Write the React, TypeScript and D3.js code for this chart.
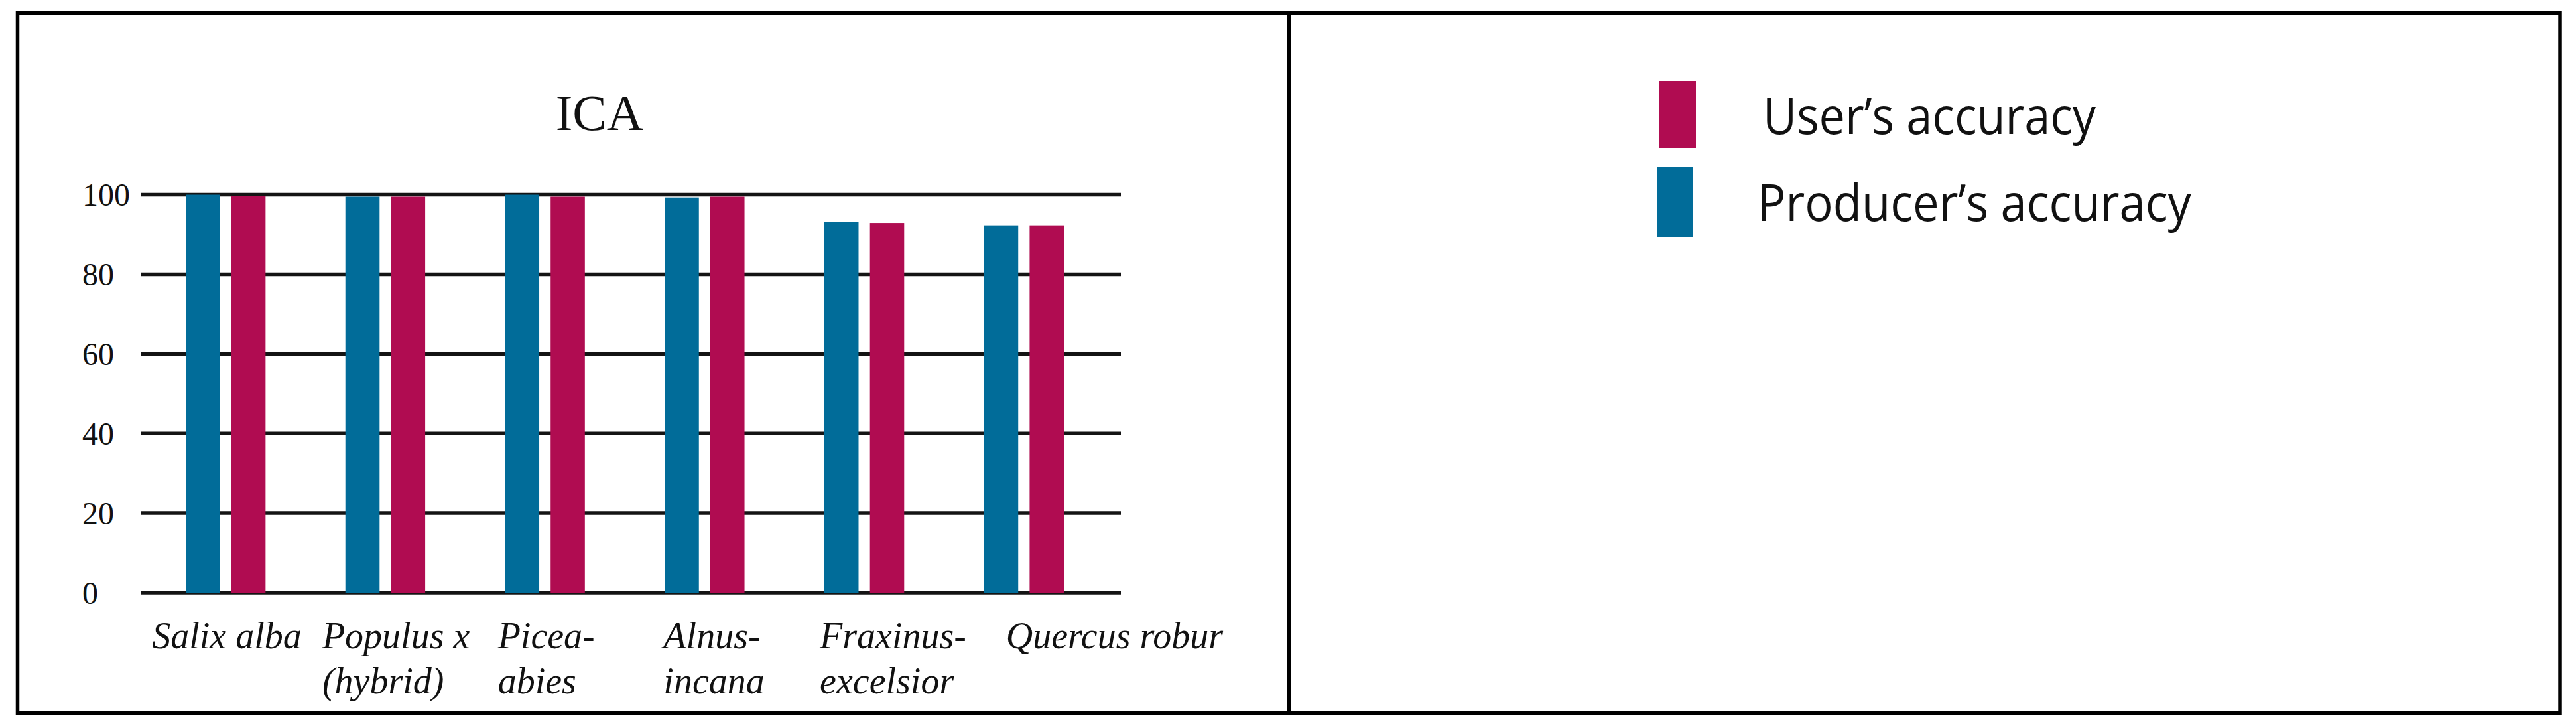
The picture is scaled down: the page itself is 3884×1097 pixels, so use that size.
import React from 'react'
import * as d3 from 'd3'

// data
const categories = ['Salix alba', 'Populus x (hybrid)', 'Picea-abies', 'Alnus-incana', 'Fraxinus-excelsior', 'Quercus robur']
const categoryLines = [['Salix alba'], ['Populus x', '(hybrid)'], ['Picea-', 'abies'], ['Alnus-', 'incana'], ['Fraxinus-', 'excelsior'], ['Quercus robur']]
const producerAccuracy = [100, 99.5, 100, 99.3, 93.1, 92.3]
const userAccuracy = [99.7, 99.5, 99.5, 99.5, 92.9, 92.3]
const yTicks = [0, 20, 40, 60, 80, 100]
const seriesKeys = ['producer', 'user']
const legendLabels = ['User\u2019s accuracy', 'Producer\u2019s accuracy']
const title = 'ICA'

const colors = { producer: '#016c99', user: '#b00c51' }

// label left edges sit a bit off the group centre in the original
const labelDx = [-111, -95, -71, -62, -67, -27]

export default function App() {
  const width = 3884
  const height = 1097

  const x = d3.scaleBand().domain(categories).range([280, 1604]).paddingInner(0.5).paddingOuter(0)
  const xs = d3.scaleBand().domain(seriesKeys).range([0, x.bandwidth()]).paddingInner(0.25)
  const y = d3.scaleLinear().domain([0, 100]).range([893, 293.5])

  const bars = categories.flatMap((c, i) => [
    { key: 'producer', cat: c, v: producerAccuracy[i] },
    { key: 'user', cat: c, v: userAccuracy[i] }
  ])

  const serif = '"Liberation Serif", "Times New Roman", serif'
  const sans = '"Open Sans", "Noto Sans", sans-serif'

  return (
    <svg width={width} height={height} style={{ position: 'absolute', left: 0, top: 0, display: 'block', background: '#fff' }}>
      <text x={904} y={196} textAnchor="middle" fontFamily={serif} fontSize={77} fill="#111">{title}</text>

      {/* grid */}
      {yTicks.map(t => (
        <g key={t}>
          <line x1={212} x2={1690} y1={y(t)} y2={y(t)} stroke="#141414" strokeWidth={5.5} />
          <text x={124} y={y(t)} dy="0.35em" fontFamily={serif} fontSize={48} fill="#111">{t}</text>
        </g>
      ))}

      {/* bars */}
      {bars.map((d, i) => (
        <rect
          key={i}
          x={x(d.cat) + xs(d.key)}
          y={y(d.v)}
          width={xs.bandwidth()}
          height={y(0) - y(d.v)}
          fill={colors[d.key]}
        />
      ))}

      {/* category labels */}
      {categories.map((c, i) => (
        <text key={c} fontFamily={serif} fontStyle="italic" fontSize={56} fill="#111">
          {categoryLines[i].map((ln, j) => (
            <tspan key={j} x={x(c) + x.bandwidth() / 2 + labelDx[i]} y={977 + j * 68}>{ln}</tspan>
          ))}
        </text>
      ))}

      {/* legend */}
      <rect x={2501} y={122} width={56} height={101} fill={colors.user} />
      <rect x={2499} y={252} width={53} height={105} fill={colors.producer} />
      <text x={2658} y={202} fontFamily={sans} fontSize={76} textLength={502} lengthAdjust="spacingAndGlyphs" fill="#111">{legendLabels[0]}</text>
      <text x={2650} y={333} fontFamily={sans} fontSize={76} textLength={654} lengthAdjust="spacingAndGlyphs" fill="#111">{legendLabels[1]}</text>

      {/* frame */}
      <rect x={26.5} y={19.5} width={3860 - 26.5} height={1074.5 - 19.5} fill="none" stroke="#000" strokeWidth={5.5} />
      <line x1={1943.5} x2={1943.5} y1={19.5} y2={1074.5} stroke="#000" strokeWidth={5} />
    </svg>
  )
}
